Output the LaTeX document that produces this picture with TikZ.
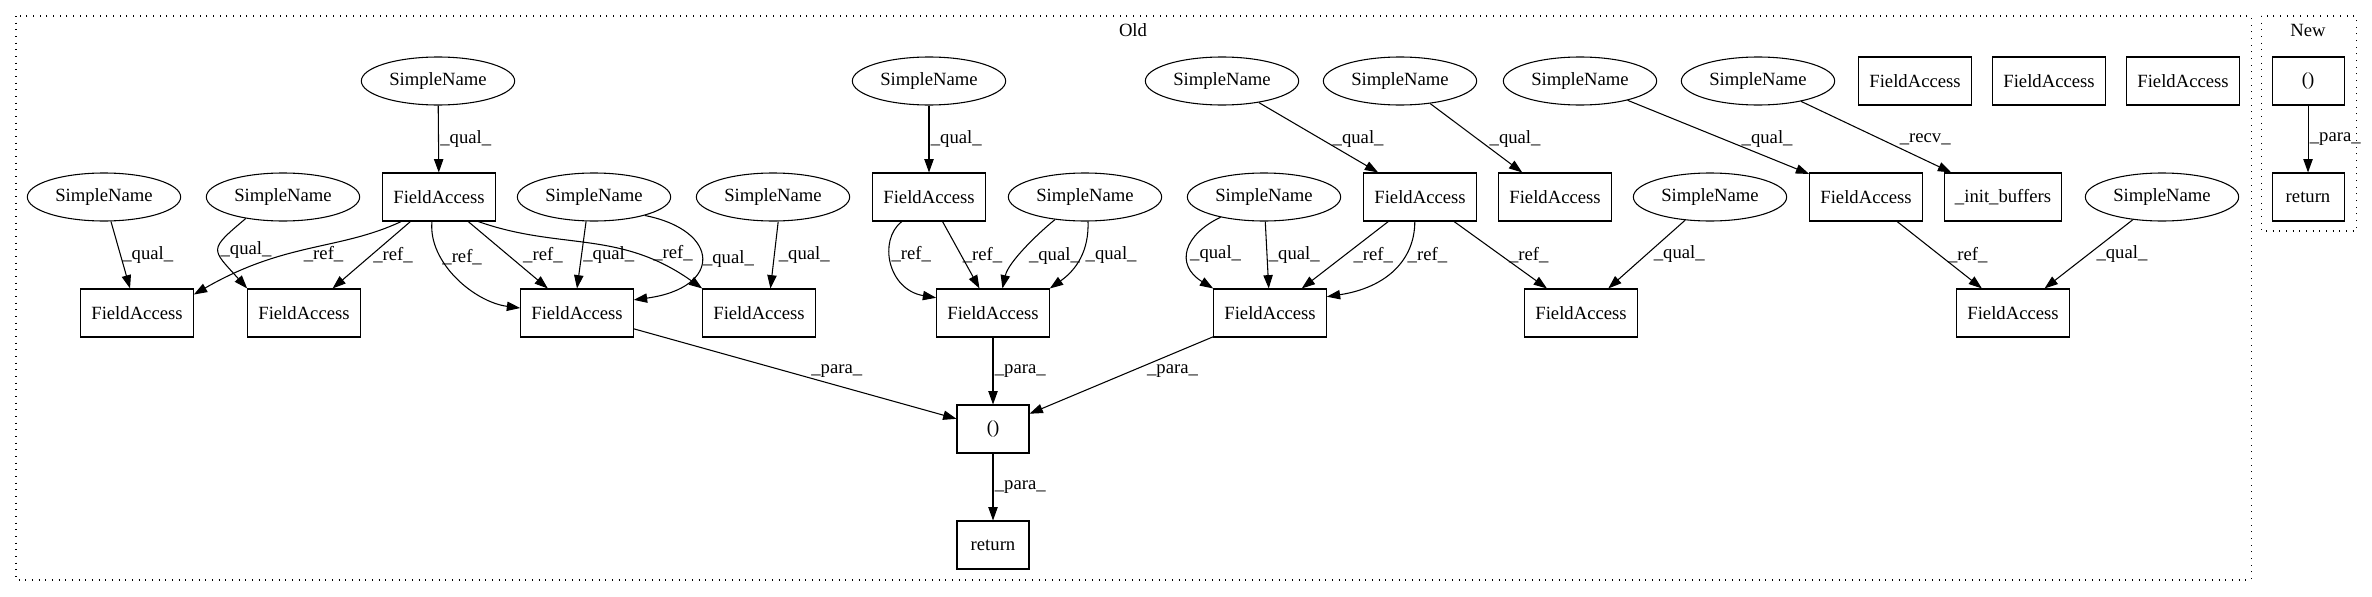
\documentclass[tikz,border=0pt]{standalone}
\usepackage{fontspec}
\setmainfont{Liberation Serif}
\usetikzlibrary{arrows.meta,shapes.geometric}
\newcommand{\fs}{\fontsize{14pt}{16pt}\selectfont}
\tikzset{
  sname/.style={draw, ellipse, line width=0.8pt, minimum width=115pt, minimum height=36pt, inner sep=0pt, font=\fs},
  fbox/.style={draw, rectangle, line width=0.8pt, minimum width=54pt, minimum height=36pt, inner xsep=8pt, inner ysep=0pt, font=\fs},
  fl/.style={-{Triangle[length=10pt,width=7pt]}, line width=0.8pt},
  et/.style={font=\fs, inner sep=1pt},
  grupo/.style={draw, line width=0.8pt, dash pattern=on 0.8pt off 4.2pt},
}
\begin{document}
\begin{tikzpicture}[x=0.75pt, y=-0.75pt]
  \useasboundingbox (0,0) rectangle (2372,596);
  \draw[grupo] (16,16) rectangle (2251,580);
  \draw[grupo] (2261,16) rectangle (2356,231);
  \node[et] (lold) at (1133,30) {Old};
  \node[et] (lnew) at (2308,30) {New};
  % top row
  \node[sname] (snA) at (438,81) {SimpleName};
  \node[sname] (snB) at (929,81) {SimpleName};
  \node[sname] (snC) at (1222,81) {SimpleName};
  \node[sname] (snD) at (1400,81) {SimpleName};
  \node[sname] (snE) at (1580,81) {SimpleName};
  \node[sname] (snF) at (1758,81) {SimpleName};
  \node[fbox] (faX1) at (1915,81) {FieldAccess};
  \node[fbox] (faX2) at (2049,81) {FieldAccess};
  \node[fbox] (faX3) at (2183,81) {FieldAccess};
  \node[fbox] (callN) at (2308,81) {()};
  % middle row
  \node[sname] (sn1) at (104,197) {SimpleName};
  \node[sname] (sn2) at (283,197) {SimpleName};
  \node[fbox] (fa1) at (439,197) {FieldAccess};
  \node[sname] (sn3) at (594,197) {SimpleName};
  \node[sname] (sn4) at (773,197) {SimpleName};
  \node[fbox] (fa2) at (929,197) {FieldAccess};
  \node[sname] (sn5) at (1085,197) {SimpleName};
  \node[sname] (sn6) at (1264,197) {SimpleName};
  \node[fbox] (fa3) at (1420,197) {FieldAccess};
  \node[fbox] (fa4) at (1555,197) {FieldAccess};
  \node[sname] (sn7) at (1710,197) {SimpleName};
  \node[fbox] (fa5) at (1866,197) {FieldAccess};
  \node[fbox] (init) at (2003,197) {\_init\_buffers};
  \node[sname] (sn8) at (2162,197) {SimpleName};
  \node[fbox] (retN) at (2308,197) {return};
  % bottom row
  \node[fbox] (fb1) at (137,313) {FieldAccess};
  \node[fbox] (fb2) at (304,313) {FieldAccess};
  \node[fbox] (fb3) at (577,313) {FieldAccess};
  \node[fbox] (fb4) at (759,313) {FieldAccess};
  \node[fbox] (fb5) at (993,313) {FieldAccess};
  \node[fbox] (fb6) at (1270,313) {FieldAccess};
  \node[fbox] (fb7) at (1581,313) {FieldAccess};
  \node[fbox] (fb8) at (2013,313) {FieldAccess};
  \node[fbox] (call) at (993,429) {()};
  \node[fbox] (ret) at (993,545) {return};

  \draw[fl] (snA) -- node[et, right] {\_qual\_} (fa1);
  \draw[fl] (snB) -- node[et, right] {\_qual\_} (fa2);
  \draw[fl] (snC) -- node[et, right, pos=0.52, xshift=7.5pt] {\_qual\_} (fa3);
  \draw[fl] (snD) -- node[et, right, pos=0.51, xshift=8pt] {\_qual\_} (fa4);
  \draw[fl] (snE) -- node[et, right, pos=0.53, xshift=12pt] {\_qual\_} (fa5);
  \draw[fl] (snF) -- node[et, right, pos=0.53, xshift=13pt] {\_recv\_} (init);
  \draw[fl] (callN) -- node[et, right] {\_para\_} (retN);

  \draw[fl] (sn1) -- node[et, right] {\_qual\_} (fb1);
  \draw[fl] (sn2.210) .. controls +(-38,32) and +(-36,-40) .. node[et, right, pos=0.5] {\_qual\_} (fb2.north west);
  \draw[fl] (fa1.213) .. controls +(-62,29) and +(92,-53) .. node[et, right, pos=0.6, xshift=10pt] {\_ref\_} (fb1.18);
  \draw[fl] (fa1) -- node[et, right] {\_ref\_} (fb2);
  \draw[fl] (fa1.254) .. controls +(-4,41) and +(-46,-6) .. node[et, right, pos=0.3] {\_ref\_} (fb3.175);
  \draw[fl] (fa1) -- node[et, right, xshift=10pt] {\_ref\_} (fb3);
  \draw[fl] (sn3.252) -- node[et, right] {\_qual\_} (fb3.north);
  \draw[fl] (fa1.328) .. controls +(82,29) and +(-83,-59) .. node[et, right, pos=0.7, xshift=14pt] {\_ref\_} (fb4.north west);
  \draw[fl] (sn3.340) .. controls +(76,15) and +(89,-12) .. node[et, right, pos=0.5] {\_qual\_} (fb3.13);
  \draw[fl] (sn4.282) -- node[et, right, xshift=2pt] {\_qual\_} (fb4.65);

  \draw[fl] (fa2.222) .. controls +(-24,19) and +(-48,-8) .. node[et, right, pos=0.4] {\_ref\_} (fb5.165);
  \draw[fl] (fa2) -- node[et, right] {\_ref\_} (fb5);
  \draw[fl] (sn5.217) .. controls +(-15,12) and +(6,-27) .. node[et, right, pos=0.6, xshift=6pt] {\_qual\_} (fb5.69);
  \draw[fl] (sn5.277) .. controls +(1,29) and +(27,-19) .. node[et, right, pos=0.45, xshift=2pt] {\_qual\_} (fb5.north east);
  \draw[fl] (sn6.205) .. controls +(-36,17) and +(-39,-24) .. node[et, right, pos=0.55] {\_qual\_} (fb6.north west);
  \draw[fl] (sn6) -- node[et, right] {\_qual\_} (fb6);
  \draw[fl] (fa3) -- node[et, right, xshift=5pt] {\_ref\_} (fb6);
  \draw[fl] (fa3.258) .. controls +(0,39) and +(59,-9) .. node[et, right, pos=0.32] {\_ref\_} (fb6.16);
  \draw[fl] (fa3) -- node[et, right, xshift=5pt] {\_ref\_} (fb7);
  \draw[fl] (sn7.223) -- node[et, right, xshift=4pt] {\_qual\_} (fb7.42);
  \draw[fl] (fa5) -- node[et, right, xshift=5pt] {\_ref\_} (fb8);
  \draw[fl] (sn8) -- node[et, right, xshift=4.5pt] {\_qual\_} (fb8);

  \draw[fl] (fb3) -- node[et, right, pos=0.47, xshift=18pt] {\_para\_} (call);
  \draw[fl] (fb5) -- node[et, right] {\_para\_} (call);
  \draw[fl] (fb6) -- node[et, right, pos=0.45, xshift=11pt] {\_para\_} (call);
  \draw[fl] (call) -- node[et, right] {\_para\_} (ret);
\end{tikzpicture}
\end{document}
